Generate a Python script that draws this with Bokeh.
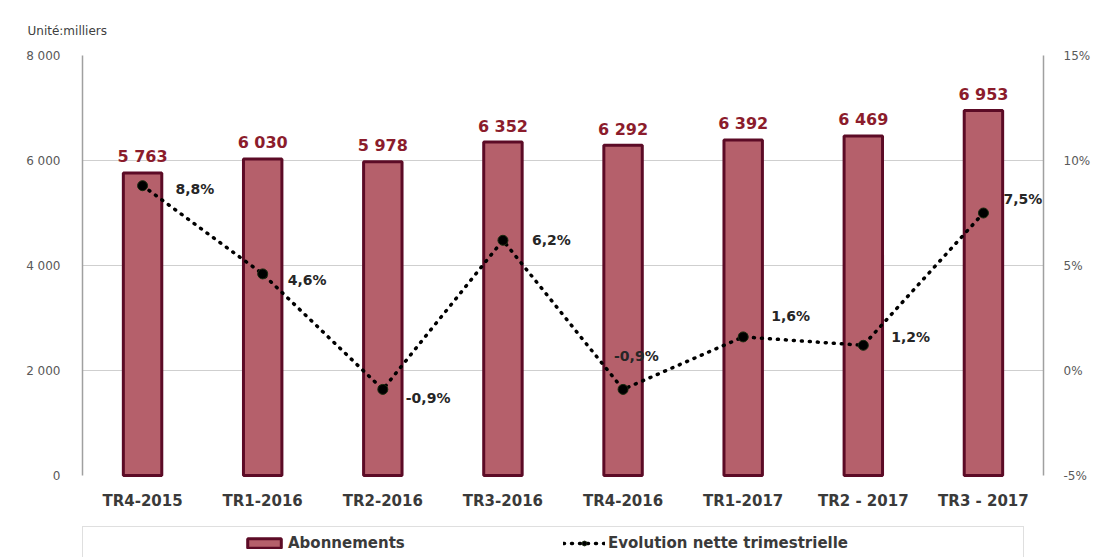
from bokeh.plotting import figure
from bokeh.models import (FactorRange, Range1d, LinearAxis, FixedTicker, Legend, LegendItem,
                          ColumnDataSource, LabelSet, PrintfTickFormatter)
from bokeh.core.properties import value
from bokeh.embed import file_html
from bokeh.resources import INLINE

# ---- data ----
categories = ["TR4-2015", "TR1-2016", "TR2-2016", "TR3-2016",
              "TR4-2016", "TR1-2017", "TR2 - 2017", "TR3 - 2017"]
abonnements = [5763, 6030, 5978, 6352, 6292, 6392, 6469, 6953]
evolution = [8.8, 4.6, -0.9, 6.2, -0.9, 1.6, 1.2, 7.5]
left_ticks = [0, 2000, 4000, 6000, 8000]
right_ticks = [-5, 0, 5, 10, 15]
unit_label = "Unité:milliers"
series_names = ["Abonnements", "Evolution nette trimestrielle"]

# label nudges (screen px) for the percentage labels
pct_dx = [33, 25, 23, 29, -9, 28, 28, 20]
pct_dy = [-3, -6, -9, 0, 33, 21, 8, 14]

FONT = "DejaVu Sans"
BAR_FILL = "#B5606B"
BAR_LINE = "#5C0B26"

# layout (px): plotting band is 420 px tall, with 82 px below it for axis + legend
BAND = 420
BELOW = 82
lo_left = left_ticks[0] - (left_ticks[-1] - left_ticks[0]) * BELOW / BAND
lo_right = right_ticks[0] - (right_ticks[-1] - right_ticks[0]) * BELOW / BAND

src = ColumnDataSource(dict(
    cat=categories,
    abon=abonnements,
    abon_lbl=[f"{v:,}".replace(",", " ") for v in abonnements],
    pct=evolution,
    pct_lbl=[f"{v:.1f}%".replace(".", ",") for v in evolution],
    dx=pct_dx,
    dy=pct_dy,
))

p = figure(x_range=FactorRange(*categories, range_padding=0),
           y_range=Range1d(lo_left, left_ticks[-1]),
           width=1096, height=557,
           min_border_left=82, min_border_right=53,
           min_border_top=55, min_border_bottom=0,
           output_backend="svg", toolbar_location=None,
           title=unit_label)
p.extra_y_ranges = {"pct": Range1d(lo_right, right_ticks[-1])}

p.outline_line_color = None
p.background_fill_color = "white"
p.border_fill_color = "white"

# title
p.title.align = "left"
p.title.offset = -55
p.title.text_font = FONT
p.title.text_font_size = "12px"
p.title.text_font_style = "normal"
p.title.text_color = "#404040"
p.title.standoff = 36

# grid
p.xgrid.grid_line_color = None
p.ygrid.ticker = FixedTicker(ticks=left_ticks[1:])
p.ygrid.grid_line_color = "#cfcfcf"
p.ygrid.grid_line_width = 1

# left axis
ya = p.yaxis[0]
ya.ticker = FixedTicker(ticks=left_ticks)
ya.bounds = (left_ticks[0], left_ticks[-1])
ya.major_label_overrides = {t: f"{t:,}".replace(",", " ") for t in left_ticks}
ya.axis_line_color = "#a0a0a0"
ya.axis_line_width = 1.5
ya.major_tick_line_color = None
ya.minor_tick_line_color = None
ya.major_label_standoff = 16
ya.major_label_text_font = FONT
ya.major_label_text_font_size = "12px"
ya.major_label_text_color = "#595959"

# right axis
ra = LinearAxis(y_range_name="pct", ticker=FixedTicker(ticks=right_ticks),
                formatter=PrintfTickFormatter(format="%d%%"),
                bounds=(right_ticks[0], right_ticks[-1]))
ra.axis_line_color = "#a0a0a0"
ra.axis_line_width = 1.5
ra.major_tick_line_color = None
ra.minor_tick_line_color = None
ra.major_label_standoff = 14
ra.major_label_text_font = FONT
ra.major_label_text_font_size = "12px"
ra.major_label_text_color = "#595959"
p.add_layout(ra, "right")

# x axis drawn at value 0 inside the frame
xa = p.xaxis[0]
xa.fixed_location = left_ticks[0]
xa.axis_line_color = None
xa.major_tick_line_color = None
xa.minor_tick_line_color = None
xa.major_label_standoff = 10
xa.major_label_text_font = FONT
xa.major_label_text_font_size = "15px"
xa.major_label_text_font_style = "bold"
xa.major_label_text_color = "#3a3a3a"

# bars
bars = p.vbar(x="cat", top="abon", bottom=left_ticks[0], width=0.32, source=src,
              fill_color=BAR_FILL, line_color=BAR_LINE, line_width=3)

# line + markers
line = p.line(x="cat", y="pct", source=src, y_range_name="pct",
              line_color="black", line_width=3.5, line_dash="1 7", line_cap="round")
pts = p.scatter(x="cat", y="pct", source=src, y_range_name="pct",
                size=10, fill_color="black", line_color="#1a2a10", line_width=1)

# labels
p.add_layout(LabelSet(x="cat", y="abon", text="abon_lbl", source=src,
                      text_align="center", text_baseline="middle", y_offset=16,
                      text_font=value(FONT), text_font_size="16px",
                      text_font_style="bold", text_color="#8B1C2C"))
p.add_layout(LabelSet(x="cat", y="pct", text="pct_lbl", source=src, y_range_name="pct",
                      x_offset="dx", y_offset="dy",
                      text_align="left", text_baseline="middle",
                      text_font=value(FONT), text_font_size="14px",
                      text_font_style="bold", text_color="#262626"))

# legend frame (box)
dummy = p.scatter(x=[], y=[], fill_alpha=0, line_alpha=0)
legend_box = Legend(items=[LegendItem(label=" ", renderers=[dummy])],
                    location=(0, -13), orientation="horizontal",
                    padding=10, glyph_width=20, glyph_height=12,
                    label_standoff=0, label_width=900, label_height=22,
                    border_line_color="#bfbfbf", border_line_width=1.5,
                    background_fill_color="white", background_fill_alpha=1)
p.add_layout(legend_box)

# legend items
legend = Legend(items=[LegendItem(label=series_names[0], renderers=[bars]),
                       LegendItem(label=series_names[1], renderers=[line, pts])],
                location=(161, 4), orientation="horizontal",
                padding=0, spacing=4, glyph_width=42, glyph_height=12,
                label_standoff=3, label_width=271, label_height=20,
                border_line_color=None, background_fill_alpha=0,
                label_text_font=FONT, label_text_font_size="15px",
                label_text_font_style="bold", label_text_color="#3a3a3a")
p.add_layout(legend)

open("out.html", "w").write(file_html(p, INLINE))
